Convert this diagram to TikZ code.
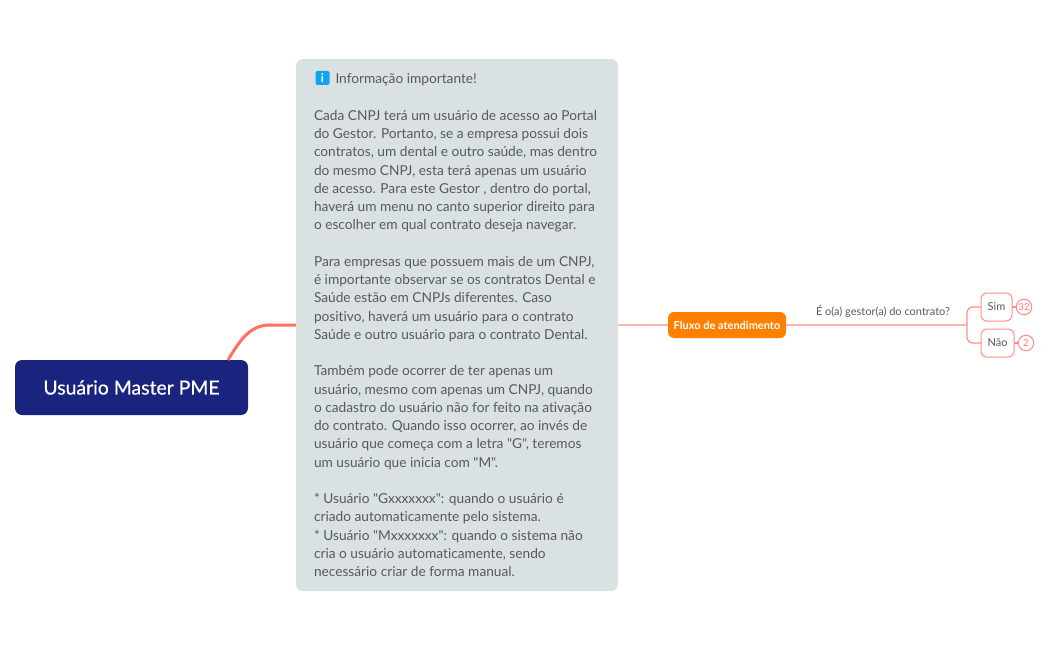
\documentclass[tikz,border=0pt]{standalone}
\usepackage{fontspec}
\setmainfont{Lato}
\newfontfamily\latoplain[Ligatures=NoCommon]{Lato}
\newfontfamily\latomed[FakeBold=0.6]{Lato}
\definecolor{rootblue}{HTML}{1A237E}
\definecolor{panelgrey}{HTML}{DAE1E3}
\definecolor{txt}{HTML}{595959}
\definecolor{linkstrong}{HTML}{FF7060}
\definecolor{linkpale}{HTML}{FFB5AD}
\definecolor{linkmid}{HTML}{FF8F85}
\definecolor{badgetext}{HTML}{FF7B6E}
\definecolor{flow}{HTML}{FF7F00}
\definecolor{infoblue}{HTML}{0FA5F0}
\tikzset{
  box/.style={inner sep=0pt,outer sep=0pt,rounded corners=#1},
  rootbox/.style={box=7pt,fill=rootblue,text=white,minimum width=233pt,minimum height=55pt,font=\latomed\fontsize{19.4}{22}\selectfont},
  panelbox/.style={box=7pt,fill=panelgrey,minimum width=322pt,minimum height=532pt},
  bodytext/.style={inner sep=0pt,outer sep=0pt,text=txt,align=left,anchor=north west,font=\latoplain\fontsize{13.7}{18.24}\selectfont},
  flowbox/.style={box=6pt,fill=flow,text=white,minimum width=118pt,minimum height=26pt,font=\fontsize{11}{12}\selectfont\bfseries},
  leafbox/.style={box=6pt,draw=linkmid,line width=1pt,fill=white,text=txt,minimum height=28pt,font=\fontsize{11}{13}\selectfont},
  badge/.style={circle,draw=linkmid,line width=1pt,fill=white,text=badgetext,inner sep=0pt,minimum size=15.5pt,font=\fontsize{9.6}{12}\selectfont},
  strongline/.style={draw=linkstrong,line width=3pt},
  paleline/.style={draw=linkpale,line width=2pt},
  midline/.style={draw=linkmid,line width=1.2pt,rounded corners=6pt},
  labeltext/.style={inner sep=0pt,text=txt,font=\fontsize{11}{12}\selectfont},
}
\begin{document}
\begin{tikzpicture}[x=1pt,y=-1pt]
\useasboundingbox (0,0) rectangle (1049,650);
\node[panelbox] (panel) at (457,325) {};
\node[rootbox] (root) at (131.5,387.5) {Usuário Master PME};
\node[flowbox] (flux) at (727,325) {Fluxo de atendimento};
\node[leafbox,minimum width=31pt] (sim) at (996.5,307) {Sim};
\node[leafbox,minimum width=33pt] (nao) at (997.5,343) {Não};
\node[badge] (b32) at (1024,307) {32};
\node[badge] (b2) at (1026,343) {2};
\coordinate (fork) at (967,325);
\draw[strongline] ([xshift=-20pt]root.north east) .. controls (240,340) and (250,325) .. (270,325) -- (panel.west);
\draw[paleline] (panel.east) -- (flux.west);
\draw[paleline] (flux.east) -- (fork);
\draw[midline] (sim.west) -| (fork);
\draw[midline] (nao.west) -| (fork);
\draw[midline] (sim.east) -- (b32.west);
\draw[midline] (nao.east) -- (b2.west);
\node[labeltext] (q) at (883,311.5) {É o(a) gestor(a) do contrato?};
\node[box=2pt,fill=infoblue,text=white,minimum size=14pt,font=\fontsize{12}{12}\selectfont\bfseries] (icon) at (322.5,78) {i};
\node[bodytext,anchor=west] (title) at (335.5,79.5) {Informação importante!};
\node[bodytext] (body) at (314,105.5) {\rule{0pt}{15pt}Cada CNPJ terá um usuário de acesso ao Portal\\
do Gestor. Portanto, se a empresa possui dois\\
contratos, um dental e outro saúde, mas dentro\\
do mesmo CNPJ, esta terá apenas um usuário\\
de acesso. Para este Gestor , dentro do portal,\\
haverá um menu no canto superior direito para\\
o escolher em qual contrato deseja navegar.\\[18.24pt]
Para empresas que possuem mais de um CNPJ,\\
é importante observar se os contratos Dental e\\
Saúde estão em CNPJs diferentes. Caso\\
positivo, haverá um usuário para o contrato\\
Saúde e outro usuário para o contrato Dental.\\[18.24pt]
Também pode ocorrer de ter apenas um\\
usuário, mesmo com apenas um CNPJ, quando\\
o cadastro do usuário não for feito na ativação\\
do contrato. Quando isso ocorrer, ao invés de\\
usuário que começa com a letra "G", teremos\\
um usuário que inicia com "M".\\[18.24pt]
* Usuário "Gxxxxxxx": quando o usuário é\\
criado automaticamente pelo sistema.\\
* Usuário "Mxxxxxxx": quando o sistema não\\
cria o usuário automaticamente, sendo\\
necessário criar de forma manual.};
\end{tikzpicture}
\end{document}
